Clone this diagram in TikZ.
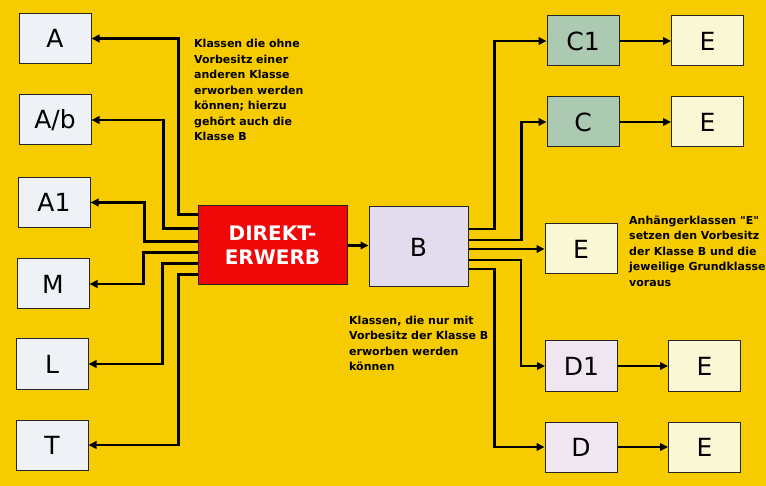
\documentclass[tikz,border=0pt]{standalone}
\usepackage{fontspec}
\setmainfont{DejaVu Sans}[Ligatures=TeXOff]
\usepackage{xcolor}
\usetikzlibrary{arrows.meta}

\definecolor{bgyellow}{RGB}{246,203,0}
\definecolor{boxwhite}{RGB}{238,242,247}
\definecolor{boxgreen}{RGB}{172,202,178}
\definecolor{boxcream}{RGB}{250,248,212}
\definecolor{boxlilac}{RGB}{226,220,238}
\definecolor{boxpink}{RGB}{240,230,242}
\definecolor{boxred}{RGB}{240,8,8}

\begin{document}
\begin{tikzpicture}[x=1pt, y=-1pt,
    klasse/.style={draw=black!85, line width=1pt, minimum width=72pt, minimum height=50pt,
        inner sep=0pt, font=\fontsize{25}{25}\selectfont},
    conn/.style={line width=2.9pt, -{Triangle[length=8pt,width=7.5pt]}},
    note/.style={anchor=north west, align=left, inner sep=0pt,
        font=\fontsize{11}{15.5}\selectfont\bfseries}]
    \useasboundingbox (0,0) rectangle (766,486);
    \fill[bgyellow] (0,0) rectangle (766,486);

    % left column
    \node[klasse, fill=boxwhite] (a) at (55,38.5) {A};
    \node[klasse, fill=boxwhite] (ab) at (55,120) {A/b};
    \node[klasse, fill=boxwhite] (a1) at (54,202.5) {A1};
    \node[klasse, fill=boxwhite] (m) at (53,284) {M};
    \node[klasse, fill=boxwhite] (l) at (52,364) {L};
    \node[klasse, fill=boxwhite] (t) at (52,445) {T};

    % middle
    \node[draw=black!85, line width=1pt, fill=boxred, text=white, minimum width=149pt,
        minimum height=79pt, align=center, font=\fontsize{20}{24}\selectfont\bfseries]
        (direkt) at (272.5,245.5) {DIREKT-\\ERWERB};
    \node[klasse, fill=boxlilac, minimum width=99pt, minimum height=80pt] (b) at (418.5,247) {B};

    % right column
    \node[klasse, fill=boxgreen] (c1) at (583,41) {C1};
    \node[klasse, fill=boxgreen] (c) at (583,122) {C};
    \node[klasse, fill=boxcream] (em) at (581,249) {E};
    \node[klasse, fill=boxpink] (d1) at (581.5,366) {D1};
    \node[klasse, fill=boxpink] (d) at (581,447) {D};

    \node[klasse, fill=boxcream] (e1) at (707.5,41) {E};
    \node[klasse, fill=boxcream] (e2) at (707.5,122) {E};
    \node[klasse, fill=boxcream] (e3) at (704.5,366) {E};
    \node[klasse, fill=boxcream] (e4) at (704.5,447) {E};

    % connectors to the left
    \draw[conn] ([yshift=31pt]direkt.west) -| ([xshift=87pt]a.east) -- (a.east);
    \draw[conn] ([yshift=17pt]direkt.west) -| ([xshift=72pt]ab.east) -- (ab.east);
    \draw[conn] ([yshift=4pt]direkt.west) -| ([xshift=54pt]a1.east) -- (a1.east);
    \draw[conn] ([yshift=-7pt]direkt.west) -| ([xshift=54pt]m.east) -- (m.east);
    \draw[conn] ([yshift=-18pt]direkt.west) -| ([xshift=74pt]l.east) -- (l.east);
    \draw[conn] ([yshift=-29pt]direkt.west) -| ([xshift=90pt]t.east) -- (t.east);

    \draw[conn] (direkt.east) -- (direkt.east -| b.west);

    % connectors to the right
    \draw[conn] ([yshift=18pt]b.east) -| ([xshift=-52pt]c1.west) -- (c1.west);
    \draw[conn] ([yshift=7pt]b.east) -| ([xshift=-25pt]c.west) -- (c.west);
    \draw[conn] (b.east |- em.west) -- (em.west);
    \draw[conn] ([yshift=-13pt]b.east) -| ([xshift=-24pt]d1.west) -- (d1.west);
    \draw[conn] ([yshift=-22pt]b.east) -| ([xshift=-50pt]d.west) -- (d.west);

    \draw[conn] (c1) -- (e1);
    \draw[conn] (c) -- (e2);
    \draw[conn] (d1) -- (e3);
    \draw[conn] (d) -- (e4);

    % notes
    \node[note] (ohne) at (194,39) {Klassen die ohne\\Vorbesitz einer\\anderen Klasse\\erworben werden\\können; hierzu\\gehört auch die\\Klasse B};
    \node[note] (nurmit) at (349,315.5) {Klassen, die nur mit\\Vorbesitz der Klasse B\\erworben werden\\können};
    \node[note] (anh) at (629,215.5) {Anhängerklassen "E"\\setzen den Vorbesitz\\der Klasse B und die\\jeweilige Grundklasse\\voraus};
\end{tikzpicture}
\end{document}
